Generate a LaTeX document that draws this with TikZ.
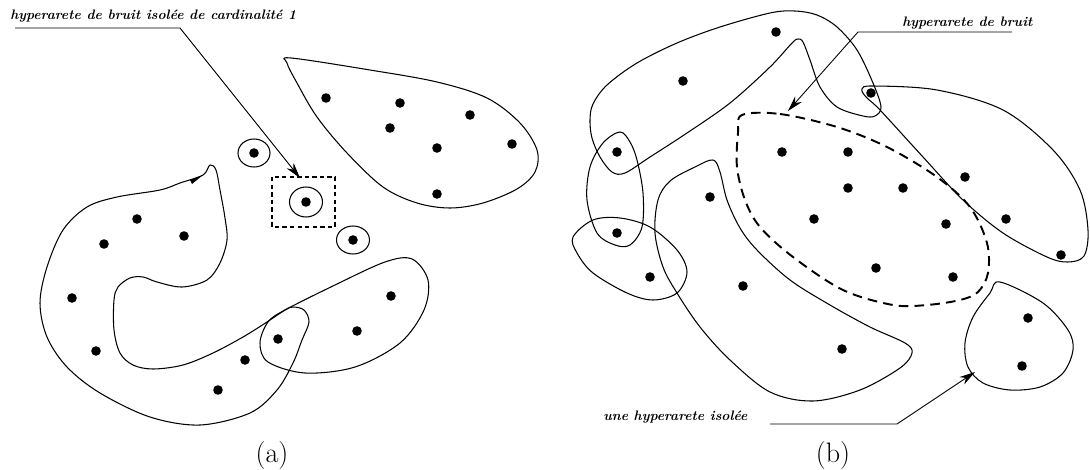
\documentclass[tikz,border=0pt]{standalone}
\usetikzlibrary{arrows.meta}

\tikzset{
  hedge/.style={line width=0.6pt},
  bruit/.style={line width=1.1pt, dash pattern=on 5.5pt off 3.5pt},
  bruitbox/.style={line width=0.9pt, dash pattern=on 2.5pt off 1.8pt},
  pin/.style={line width=0.5pt, -{Stealth[length=9pt,width=5pt]}},
  tag/.style={font=\fontsize{7.8}{9}\selectfont\bfseries\itshape, inner sep=0pt},
  legende/.style={font=\fontsize{16}{18}\selectfont, inner sep=0pt},
}

\begin{document}
\begin{tikzpicture}[x=0.02cm, y=-0.02cm]
  \useasboundingbox (0,0) rectangle (1090,470);

  % ---------- (a) ----------
  % hyperarete en C
  \draw[hedge] plot[smooth cycle, tension=0.55] coordinates {
    (210,165) (203,175) (180,183) (160,190) (117,197) (87,207) (63,230)
    (47,267) (40,303) (47,337) (67,367) (100,393) (150,417) (200,425)
    (250,413) (277,390) (293,363) (302,340) (309,322) (304,310) (293,307)
    (285,310) (267,322) (243,337) (213,353) (183,365) (153,369) (133,365)
    (120,353) (114,330) (114,300) (118,287) (130,278) (143,277) (157,282)
    (182,287) (207,280) (220,263) (227,240) (225,218) (220,190) (216,170)};
  \fill (190,180) -- (203,175) -- (192,184) -- cycle;

  % hyperarete en goutte, en haut
  \draw[hedge] plot[smooth cycle, tension=0.55] coordinates {
    (291,58) (370,70) (437,82) (487,98) (520,123) (537,150) (535,172)
    (517,189) (483,203) (450,208) (417,203) (383,187) (347,153) (317,117)
    (297,83) (287,63)};

  % hyperarete du bas
  \draw[hedge] plot[smooth cycle, tension=0.55] coordinates {
    (260,343) (268,322) (285,310) (335,285) (385,262) (412,259) (428,280)
    (424,310) (400,343) (355,367) (305,373) (268,362)};

  % hyperaretes de cardinalite 1
  \draw[hedge] (254,153) ellipse[x radius=16, y radius=14];
  \draw[hedge] (306,202) ellipse[x radius=16.5, y radius=15];
  \draw[hedge] (353,240) ellipse[x radius=16.5, y radius=14];
  \draw[bruitbox] (272,177) rectangle (335,227);

  \foreach \x/\y in {137/219, 104/244, 184/236, 72/298, 96/351, 218/390,
                     245/360, 278/339, 357/331, 391/296, 254/153, 306/202,
                     353/240, 326/98, 400/103, 470/115, 390/128, 437/148,
                     512/144, 437/194}
    \fill (\x,\y) circle[radius=4.8];

  \node[tag, anchor=west] (lblA) at (10,16) {hyperarete de bruit isolée de cardinalité 1};
  \coordinate (a0) at (15,28);
  \coordinate (a1) at (180,28);
  \coordinate (a2) at (300,178);
  \draw[pin] (a0) -- (a1) -- (a2);

  \node[legende] (capA) at (272,455) {(a)};

  % ---------- (b) ----------
  % grande hyperarete du haut
  \draw[hedge] plot[smooth cycle, tension=0.55] coordinates {
    (590,120) (593,104) (607,85) (637,63) (677,43) (720,27) (770,13)
    (795,11) (817,15) (837,27) (857,50) (873,83) (881,107) (875,116)
    (863,116) (837,107) (820,87) (810,60) (803,42) (798,39) (792,43)
    (770,67) (730,103) (687,133) (650,157) (625,173) (612,172) (600,157)
    (592,138)};

  % petite hyperarete verticale
  \draw[hedge] plot[smooth cycle, tension=0.55] coordinates {
    (620,132) (630,142) (637,160) (643,193) (642,227) (630,245) (615,245)
    (597,233) (587,200) (590,167) (603,143)};

  % hyperarete a gauche en bas
  \draw[hedge] plot[smooth cycle, tension=0.55] coordinates {
    (573,237) (593,220) (620,218) (650,227) (677,250) (687,272) (677,293)
    (653,300) (627,293) (593,273) (577,253)};

  % longue hyperarete du milieu
  \draw[hedge] plot[smooth cycle, tension=0.55] coordinates {
    (713,160) (720,172) (727,200) (740,228) (757,250) (790,280) (830,305)
    (870,327) (905,343) (912,353) (900,368) (860,390) (813,401) (770,392)
    (730,360) (700,327) (677,293) (663,267) (655,233) (658,200) (670,181)
    (695,167)};

  % hyperarete de bruit
  \draw[bruit] plot[smooth cycle, tension=0.55] coordinates {
    (742,115) (780,114) (837,127) (887,147) (937,177) (970,207) (987,243)
    (988,273) (978,292) (960,300) (927,305) (893,305) (843,290) (793,257)
    (760,227) (745,200) (737,167) (738,133)};

  % hyperarete de droite
  \draw[hedge] plot[smooth cycle, tension=0.55] coordinates {
    (862,89) (873,86) (937,90) (1003,110) (1053,150) (1080,190) (1088,230)
    (1084,256) (1068,262) (1047,257) (1003,233) (963,200) (923,157)
    (880,110) (866,97)};

  % hyperarete isolee
  \draw[hedge] plot[smooth cycle, tension=0.55] coordinates {
    (1000,282) (1043,303) (1068,330) (1073,350) (1063,373) (1040,387)
    (1010,390) (983,383) (968,367) (965,343) (973,317) (990,293)};

  \foreach \x/\y in {776/32, 683/81, 871/93, 617/152, 782/152, 848/152,
                     710/197, 848/188, 903/188, 965/177, 814/219, 946/224,
                     1006/219, 617/233, 1061/255, 650/277, 743/286, 876/268,
                     953/277, 842/349, 1028/318, 1022/366}
    \fill (\x,\y) circle[radius=4.8];

  \node[tag, anchor=west] (lblB) at (902,23) {hyperarete de bruit};
  \coordinate (b0) at (1012,32);
  \coordinate (b1) at (858,32);
  \coordinate (b2) at (788,111);
  \draw[pin] (b0) -- (b1) -- (b2);

  \node[tag, anchor=west] (lblC) at (603,417) {une hyperarete isolée};
  \coordinate (c0) at (770,424);
  \coordinate (c1) at (897,424);
  \coordinate (c2) at (975,372);
  \draw[pin] (c0) -- (c1) -- (c2);

  \node[legende] (capB) at (833,455) {(b)};
\end{tikzpicture}
\end{document}
